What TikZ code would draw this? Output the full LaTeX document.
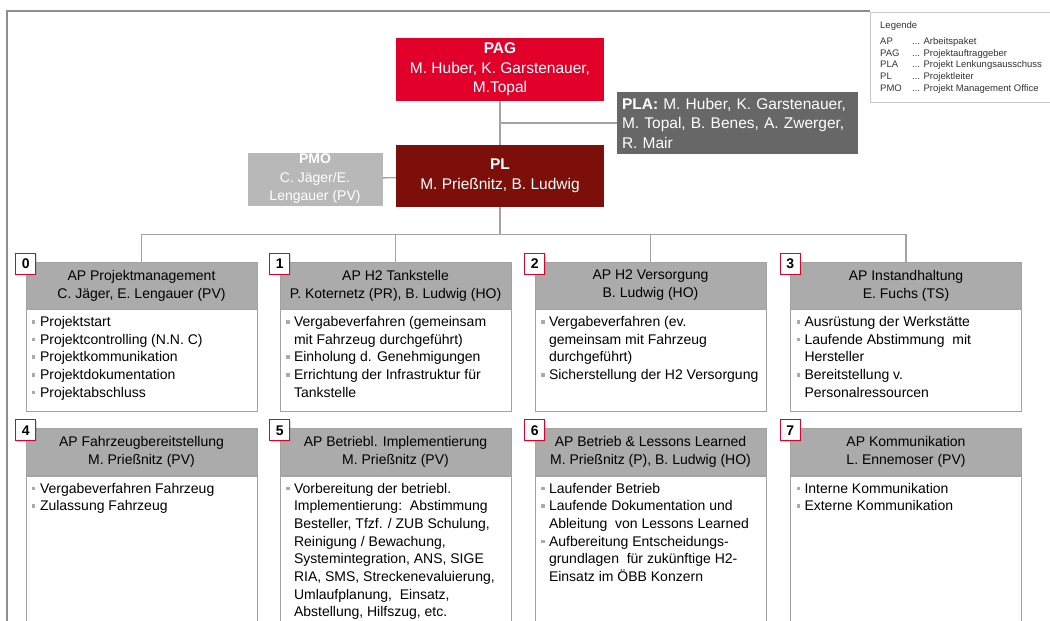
\documentclass[tikz,border=0pt]{standalone}
\usepackage{fontspec}
\setmainfont{Liberation Sans}
\usepackage{xcolor}
\usetikzlibrary{positioning,shadows}
\definecolor{oebbred}{HTML}{E2002A}
\definecolor{pldark}{HTML}{7C0F0A}
\definecolor{plagrey}{HTML}{676767}
\definecolor{pmogrey}{HTML}{B8B8B8}
\definecolor{headgrey}{HTML}{ABABAB}
\definecolor{linegrey}{HTML}{A3A3A3}
\definecolor{framegrey}{HTML}{8E8E8E}
\newcommand{\bul}{\makebox[8pt][l]{\textcolor{headgrey}{\rule[3pt]{3.5pt}{3.5pt}}}}
\newcommand{\cnt}{\hspace*{8pt}}

\begin{document}
\begin{tikzpicture}[x=1pt,y=-1pt,
    box/.style={inner sep=0pt,align=center,text=white},
    conn/.style={draw=linegrey,line width=1.3pt},
    aphead/.style={draw=linegrey,fill=headgrey,minimum width=231pt,minimum height=47pt,inner sep=0pt,align=center,font=\fontsize{14}{18}\selectfont},
    apbody/.style={draw=linegrey,fill=white,minimum width=231pt,inner sep=0pt},
    aptext/.style={anchor=north west,inner sep=0pt,align=left,font=\fontsize{14}{17.7}\selectfont},
    badge/.style={draw=oebbred,fill=white,line width=1.3pt,minimum width=20pt,minimum height=21pt,inner sep=0pt,font=\bfseries\fontsize{14}{14}\selectfont,drop shadow={shadow xshift=1pt,shadow yshift=-1pt,opacity=0.3}},
    legtxt/.style={anchor=base west,inner sep=0pt,text=black!80,font=\fontsize{9.5}{11}\selectfont}]
    \useasboundingbox (0,0) rectangle (1050,621);
    \clip (0,0) rectangle (1050,621);
    \draw[framegrey,line width=1.5pt] (870,11)--(7,11)--(7,640);
    \node[draw=linegrey!60,line width=0.8pt,minimum width=190pt,minimum height=90pt,anchor=north west] (legend) at (870,12) {};
    \node[legtxt] (leghead) at (880,28.5) {Legende};
    \foreach \ab/\txt [count=\i] in {AP/Arbeitspaket,PAG/Projektauftraggeber,PLA/Projekt Lenkungsausschuss,PL/Projektleiter,PMO/Projekt Management Office}
    {
        \node[legtxt] (la\i) at (880,32.5+\i*11.8) {\ab};
        \node[legtxt] (lt\i) at (912,32.5+\i*11.8) {... \txt};
    }
    \node[box,fill=oebbred,minimum width=208pt,minimum height=63pt,font=\fontsize{15.5}{19.5}\selectfont] (pag) at (500,69.5) {\textbf{PAG}\\M. Huber, K. Garstenauer,\\M.Topal};
    \node[box,fill=plagrey,minimum height=62pt,inner xsep=5pt,text width=231pt,align=left,font=\fontsize{15.5}{19.5}\selectfont] (pla) at (737.5,123) {\textbf{PLA:} M. Huber, K. Garstenauer,\\M. Topal, B. Benes, A. Zwerger,\\R. Mair};
    \node[box,fill=pldark,minimum width=208pt,minimum height=62pt,font=\fontsize{15.5}{19.5}\selectfont] (pl) at (500,176) {\textbf{PL}\\M. Prießnitz, B. Ludwig};
    \node[box,fill=pmogrey,minimum width=135pt,minimum height=53pt,font=\fontsize{14}{18.5}\selectfont] (pmo) at (315,179) {\textbf{PMO}\\C. Jäger/E.\\Lengauer (PV)};
    \foreach \n/\x/\y/\bh/\head/\body in {
        0/141.5/285.5/102/{AP Projektmanagement\\C. Jäger, E. Lengauer (PV)}/{\bul Projektstart\\\bul Projektcontrolling (N.N. C)\\\bul Projektkommunikation\\\bul Projektdokumentation\\\bul Projektabschluss},
        1/395.5/285.5/102/{AP H2 Tankstelle\\P. Koternetz (PR), B. Ludwig (HO)}/{\bul Vergabeverfahren (gemeinsam\\\cnt mit Fahrzeug durchgeführt)\\\bul Einholung d. Genehmigungen\\\bul Errichtung der Infrastruktur für\\\cnt Tankstelle},
        2/650.5/285.5/102/{AP H2 Versorgung\\B. Ludwig (HO)}/{\bul Vergabeverfahren (ev.\\\cnt gemeinsam mit Fahrzeug\\\cnt durchgeführt)\\\bul Sicherstellung der H2 Versorgung},
        3/906/285.5/102/{AP Instandhaltung\\E. Fuchs (TS)}/{\bul Ausrüstung der Werkstätte\\\bul Laufende Abstimmung\ \ mit\\\cnt Hersteller\\\bul Bereitstellung v.\\\cnt Personalressourcen},
        4/141.5/452/184/{AP Fahrzeugbereitstellung\\M. Prießnitz (PV)}/{\bul Vergabeverfahren Fahrzeug\\\bul Zulassung Fahrzeug},
        5/395.5/452/184/{AP Betriebl. Implementierung\\M. Prießnitz (PV)}/{\bul Vorbereitung der betriebl.\\\cnt Implementierung:\ \ Abstimmung\\\cnt Besteller, Tfzf. / ZUB Schulung,\\\cnt Reinigung / Bewachung,\\\cnt Systemintegration, ANS, SIGE\\\cnt RIA, SMS, Streckenevaluierung,\\\cnt Umlaufplanung,\ \ Einsatz,\\\cnt Abstellung, Hilfszug, etc.},
        6/650.5/452/184/{AP Betrieb \& Lessons Learned\\M. Prießnitz (P), B. Ludwig (HO)}/{\bul Laufender Betrieb\\\bul Laufende Dokumentation und\\\cnt Ableitung\ \ von Lessons Learned\\\bul Aufbereitung Entscheidungs-\\\cnt grundlagen\ \ für zukünftige H2-\\\cnt Einsatz im ÖBB Konzern},
        7/906/452/184/{AP Kommunikation\\L. Ennemoser (PV)}/{\bul Interne Kommunikation\\\bul Externe Kommunikation}}
    {
        \node[aphead] (h\n) at (\x,\y) {\head};
        \node[apbody,minimum height=\bh pt,below=0pt of h\n] (b\n) {};
        \node[aptext] (t\n) at ([xshift=6pt,yshift=-7pt]b\n.north west) {\body};
        \node[badge] (n\n) at ([yshift=-2pt]h\n.north west) {\n};
    }
    \draw[conn] (pag)--(pl);
    \draw[conn] (pla.west)--(pla.west-|pag.south);
    \draw[conn] (pmo)--(pl);
    \draw[conn] (pl.south)--++(0,27) coordinate (bus);
    \draw[conn] (h0.north)|-(bus)-|(h3.north);
    \draw[conn] (h1.north)--(h1.north|-bus);
    \draw[conn] (h2.north)--(h2.north|-bus);
\end{tikzpicture}
\end{document}
